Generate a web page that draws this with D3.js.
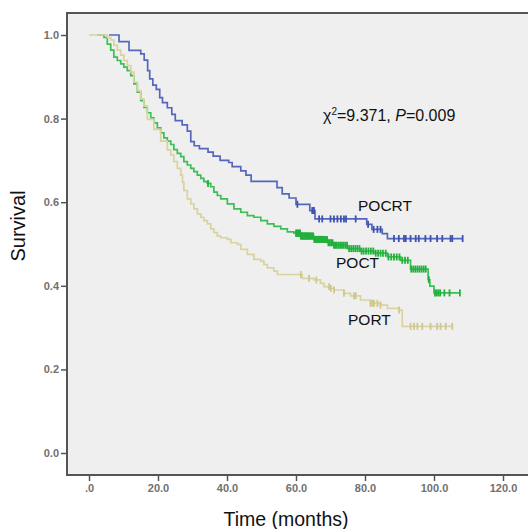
<!DOCTYPE html>
<html>
<head>
<meta charset="utf-8">
<script src="https://cdn.jsdelivr.net/npm/d3@7.9.0/dist/d3.min.js"></script>
<style>
  body { margin: 0; background: #fff; }
  svg { display: block; font-family: "Liberation Sans", Arial, sans-serif; }
</style>
</head>
<body>
<svg id="chart" width="528" height="529"></svg>
<script>
// Kaplan-Meier steps: times (months) and survival after each step
const pocrtTimes = [5.8, 8.7, 11.6, 15, 16, 17, 17.6, 18.5, 19.5, 20.5, 21.3, 22.7, 24, 25, 27, 28.5, 29.5, 30.5, 32, 34.5, 36, 38, 40.5, 41.5, 44, 45.5, 47, 54.5, 56, 58, 60, 64, 65.5, 80.5, 82, 85, 86.5];
const pocrtSurv  = [1.0, 0.984, 0.963, 0.955, 0.94, 0.915, 0.895, 0.88, 0.87, 0.85, 0.838, 0.826, 0.81, 0.795, 0.785, 0.77, 0.745, 0.735, 0.728, 0.72, 0.71, 0.70, 0.695, 0.685, 0.675, 0.665, 0.65, 0.635, 0.62, 0.61, 0.595, 0.58, 0.56, 0.547, 0.535, 0.525, 0.513];
const pocrtCensor = [60.4, 64.7, 65.2, 66.7, 67.6, 70, 71, 72, 73, 73.9, 74.5, 77.3, 80.9, 82.5, 83.6, 84.5, 88.4, 89.8, 91.3, 91.8, 93.2, 94.7, 95.6, 97.5, 99, 100.9, 102.4, 104.8, 105.3, 108.3];

const poctTimes = [2.4, 4.35, 5.3, 6.3, 7.2, 8.2, 9.2, 10.1, 11.1, 12.1, 13.0, 14.0, 15.0, 15.9, 16.9, 17.9, 18.8, 19.8, 20.8, 21.7, 22.7, 23.7, 24.6, 25.6, 26.6, 27.5, 28.5, 29.5, 30.4, 31.4, 32.4, 33.3, 34.3, 35.3, 36.2, 37.2, 38.2, 40.1, 42.0, 44.0, 45.9, 47.8, 49.8, 51.7, 53.6, 55.6, 57.5, 59.4, 61.4, 65.2, 69.1, 71.0, 74.9, 78.7, 82.6, 86.5, 90.3, 93.2, 98.3, 98.8, 100];
const poctSurv  = [1.0, 0.994, 0.978, 0.964, 0.947, 0.939, 0.931, 0.923, 0.915, 0.903, 0.883, 0.863, 0.843, 0.827, 0.814, 0.802, 0.79, 0.778, 0.766, 0.754, 0.746, 0.738, 0.726, 0.717, 0.709, 0.697, 0.689, 0.681, 0.673, 0.665, 0.657, 0.649, 0.645, 0.637, 0.624, 0.616, 0.608, 0.596, 0.584, 0.576, 0.568, 0.564, 0.556, 0.548, 0.542, 0.536, 0.529, 0.526, 0.519, 0.511, 0.503, 0.497, 0.489, 0.483, 0.478, 0.469, 0.461, 0.44, 0.415, 0.399, 0.383];
const poctCensor = [34.5, 60.0, 60.2, 60.4, 60.6, 60.8, 61.0, 61.2, 61.4, 61.6, 61.8, 62.0, 62.2, 62.4, 62.6, 62.8, 63.0, 63.2, 63.4, 63.6, 63.8, 64.0, 64.3, 64.5, 64.8, 65.0, 65.3, 65.5, 65.8, 66.0, 66.3, 66.6, 66.9, 67.2, 67.5, 67.8, 68.1, 68.4, 68.7, 69.0, 69.4, 69.8, 70.2, 70.6, 71.0, 71.4, 71.8, 72.3, 72.8, 73.3, 73.8, 74.3, 74.8, 75.4, 76.0, 76.6, 77.2, 77.8, 78.4, 79.0, 79.6, 80.3, 81.0, 81.7, 82.4, 83.1, 83.8, 84.5, 85.2, 86.0, 86.8, 87.6, 88.4, 89.2, 90.0, 90.8, 91.6, 92.4, 93.4, 94.0, 94.6, 95.2, 95.8, 96.4, 97.0, 97.6, 98.5, 100.3, 100.8, 101.3, 101.8, 103.0, 104.5, 107.5];

const portTimes = [0, 3.9, 5.3, 6.3, 7.2, 8.2, 9.2, 10.1, 11.1, 12.1, 13.0, 14.0, 15.0, 15.9, 16.9, 18.8, 20.8, 22.7, 23.7, 24.6, 25.6, 26.6, 27.1, 27.5, 28.5, 29.5, 30.4, 31.4, 32.4, 33.3, 34.3, 35.3, 36.2, 37.2, 38.2, 40.1, 41.1, 43.0, 44.0, 45.9, 47.8, 49.8, 50.7, 51.7, 53.6, 54.6, 61.8, 65.2, 67.1, 68.1, 70.0, 71.0, 73.9, 75.8, 78.7, 81.6, 84.5, 86.5, 89.9, 90.8];
const portSurv  = [1.0, 1.0, 0.994, 0.988, 0.976, 0.964, 0.952, 0.939, 0.927, 0.911, 0.887, 0.867, 0.847, 0.83, 0.798, 0.774, 0.746, 0.725, 0.713, 0.697, 0.681, 0.665, 0.648, 0.628, 0.608, 0.596, 0.584, 0.572, 0.564, 0.556, 0.548, 0.536, 0.527, 0.519, 0.515, 0.511, 0.503, 0.499, 0.487, 0.475, 0.463, 0.459, 0.451, 0.443, 0.435, 0.427, 0.418, 0.414, 0.406, 0.398, 0.394, 0.39, 0.382, 0.376, 0.366, 0.358, 0.354, 0.346, 0.342, 0.303];
const portCensor = [61.4, 63.8, 65.9, 69.6, 70.1, 71.0, 73.9, 76.8, 77.3, 81.6, 82.1, 82.6, 83.6, 84.5, 89.9, 93.2, 94.2, 95.2, 96.6, 99.0, 100.9, 101.9, 103.4, 105.3];

const groups = [
  { label: 'POCRT', times: pocrtTimes, surv: pocrtSurv, censor: pocrtCensor, color: '#5567bd', mark: '#3d52b0', lx: 358, ly: 211 },
  { label: 'POCT',  times: poctTimes,  surv: poctSurv,  censor: poctCensor,  color: '#3cbf55', mark: '#22b03c', lx: 336, ly: 268 },
  { label: 'PORT',  times: portTimes,  surv: portSurv,  censor: portCensor,  color: '#d9d3a0', mark: '#cfc78c', lx: 348, ly: 325 }
];

const xTicks = [0, 20, 40, 60, 80, 100, 120];
const yTicks = [0, 0.2, 0.4, 0.6, 0.8, 1.0];

const svg = d3.select('#chart');

const frame = { left: 67, top: 13, bottom: 475 };
const x = d3.scaleLinear().domain([0, 120]).range([89, 503]);
const y = d3.scaleLinear().domain([0, 1]).range([453, 35]);

// plot background and frame
svg.append('rect')
  .attr('x', frame.left).attr('y', frame.top)
  .attr('width', 528 - frame.left + 10).attr('height', frame.bottom - frame.top)
  .attr('fill', '#efefef')
  .attr('stroke', '#555')
  .attr('stroke-width', 2);

// axes
const yAxis = svg.append('g')
  .attr('transform', `translate(${frame.left},0)`)
  .call(d3.axisLeft(y).tickValues(yTicks).tickSize(6).tickPadding(2).tickFormat(d3.format('.1f')));
const xAxis = svg.append('g')
  .attr('transform', `translate(0,${frame.bottom})`)
  .call(d3.axisBottom(x).tickValues(xTicks).tickSize(6).tickPadding(3)
    .tickFormat(d => d === 0 ? '.0' : d3.format('.1f')(d)));

[yAxis, xAxis].forEach(g => {
  g.select('.domain').remove();
  g.selectAll('line').attr('stroke', '#555').attr('stroke-width', 1.5);
  g.selectAll('text')
    .attr('fill', '#707070')
    .attr('font-size', 11)
    .attr('font-weight', 'bold')
    .attr('font-family', '"Liberation Sans", Arial, sans-serif');
});

// survival curves
const line = d3.line()
  .x(d => x(d[0]))
  .y(d => y(d[1]))
  .curve(d3.curveStepAfter);

function survAt(g, t) {
  let s = g.surv[0];
  g.times.forEach((tt, i) => { if (tt <= t) s = g.surv[i]; });
  return s;
}

groups.forEach(g => {
  const pts = g.times.map((t, i) => [t, g.surv[i]]);
  const tEnd = d3.max(g.censor);
  pts.push([tEnd, g.surv[g.surv.length - 1]]);

  svg.append('path')
    .datum(pts)
    .attr('d', line)
    .attr('fill', 'none')
    .attr('stroke', g.color)
    .attr('stroke-width', 1.7);

  svg.append('g')
    .selectAll('line')
    .data(g.censor)
    .join('line')
    .attr('x1', d => x(d)).attr('x2', d => x(d))
    .attr('y1', d => y(survAt(g, d)) - 3.5)
    .attr('y2', d => y(survAt(g, d)) + 3.5)
    .attr('stroke', g.mark)
    .attr('stroke-width', 1.8);

  svg.append('text')
    .attr('x', g.lx).attr('y', g.ly)
    .attr('font-size', 15.5)
    .attr('fill', '#111')
    .text(g.label);
});

// log-rank annotation
const ann = svg.append('text')
  .attr('x', 323).attr('y', 121)
  .attr('font-size', 16)
  .attr('fill', '#111');
ann.append('tspan').text('χ');
ann.append('tspan').attr('font-size', 10).attr('dy', -6).text('2');
ann.append('tspan').attr('dy', 6).text('=9.371, ');
ann.append('tspan').attr('font-style', 'italic').text('P');
ann.append('tspan').text('=0.009');

// axis titles
svg.append('text')
  .attr('x', 286).attr('y', 526)
  .attr('text-anchor', 'middle')
  .attr('font-size', 19.5)
  .attr('fill', '#111')
  .text('Time (months)');

svg.append('text')
  .attr('transform', 'translate(25,226) rotate(-90)')
  .attr('text-anchor', 'middle')
  .attr('font-size', 20)
  .attr('fill', '#111')
  .text('Survival');
</script>
</body>
</html>
